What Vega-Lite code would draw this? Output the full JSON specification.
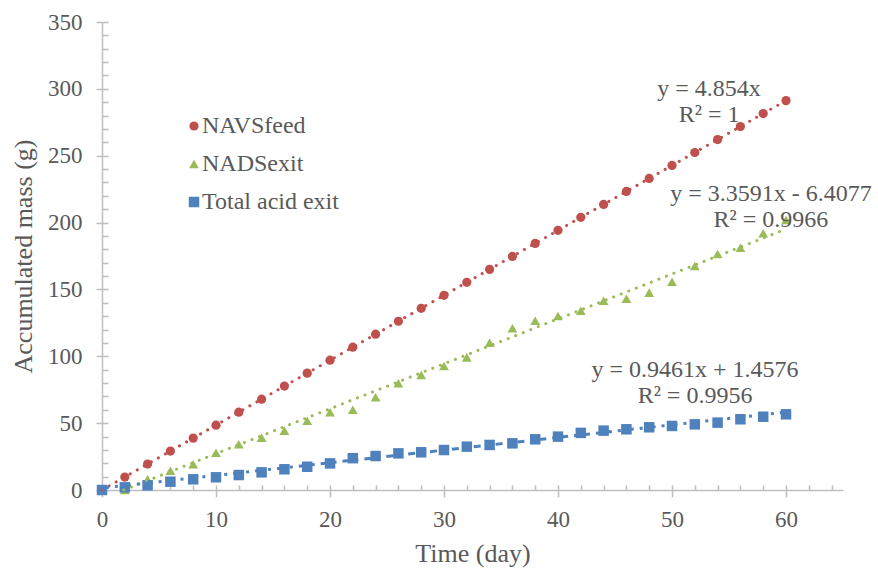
{
  "$schema": "https://vega.github.io/schema/vega-lite/v6.json",
  "width": 741,
  "height": 468,
  "autosize": {"type": "none"},
  "padding": {"left": 102, "top": 22, "right": 35, "bottom": 84},
  "background": "white",
  "config": {
    "view": {"stroke": null},
    "font": "Liberation Serif",
    "axis": {"labelFont": "Liberation Serif", "titleFont": "Liberation Serif"},
    "legend": {"labelFont": "Liberation Serif", "titleFont": "Liberation Serif"}
  },
  "resolve": {"axis": {"x": "independent", "y": "independent"}},
  "datasets": {
    "obs": [
      {"day": 0, "series": "NAVSfeed", "mass": 0},
      {"day": 2, "series": "NAVSfeed", "mass": 9.7},
      {"day": 4, "series": "NAVSfeed", "mass": 19.4},
      {"day": 6, "series": "NAVSfeed", "mass": 29.1},
      {"day": 8, "series": "NAVSfeed", "mass": 38.8},
      {"day": 10, "series": "NAVSfeed", "mass": 48.5},
      {"day": 12, "series": "NAVSfeed", "mass": 58.2},
      {"day": 14, "series": "NAVSfeed", "mass": 67.9},
      {"day": 16, "series": "NAVSfeed", "mass": 77.7},
      {"day": 18, "series": "NAVSfeed", "mass": 87.4},
      {"day": 20, "series": "NAVSfeed", "mass": 97.1},
      {"day": 22, "series": "NAVSfeed", "mass": 106.8},
      {"day": 24, "series": "NAVSfeed", "mass": 116.5},
      {"day": 26, "series": "NAVSfeed", "mass": 126.2},
      {"day": 28, "series": "NAVSfeed", "mass": 135.9},
      {"day": 30, "series": "NAVSfeed", "mass": 145.6},
      {"day": 32, "series": "NAVSfeed", "mass": 155.3},
      {"day": 34, "series": "NAVSfeed", "mass": 165.0},
      {"day": 36, "series": "NAVSfeed", "mass": 174.7},
      {"day": 38, "series": "NAVSfeed", "mass": 184.4},
      {"day": 40, "series": "NAVSfeed", "mass": 194.2},
      {"day": 42, "series": "NAVSfeed", "mass": 203.9},
      {"day": 44, "series": "NAVSfeed", "mass": 213.6},
      {"day": 46, "series": "NAVSfeed", "mass": 223.3},
      {"day": 48, "series": "NAVSfeed", "mass": 233.0},
      {"day": 50, "series": "NAVSfeed", "mass": 242.7},
      {"day": 52, "series": "NAVSfeed", "mass": 252.4},
      {"day": 54, "series": "NAVSfeed", "mass": 262.1},
      {"day": 56, "series": "NAVSfeed", "mass": 271.8},
      {"day": 58, "series": "NAVSfeed", "mass": 281.5},
      {"day": 60, "series": "NAVSfeed", "mass": 291.2},
      {"day": 0, "series": "NADSexit", "mass": 0},
      {"day": 2, "series": "NADSexit", "mass": 0},
      {"day": 4, "series": "NADSexit", "mass": 8},
      {"day": 6, "series": "NADSexit", "mass": 14.4},
      {"day": 8, "series": "NADSexit", "mass": 19.2},
      {"day": 10, "series": "NADSexit", "mass": 27.9},
      {"day": 12, "series": "NADSexit", "mass": 34.2},
      {"day": 14, "series": "NADSexit", "mass": 39.1},
      {"day": 16, "series": "NADSexit", "mass": 44.4},
      {"day": 18, "series": "NADSexit", "mass": 51.8},
      {"day": 20, "series": "NADSexit", "mass": 58.1},
      {"day": 22, "series": "NADSexit", "mass": 60.0},
      {"day": 24, "series": "NADSexit", "mass": 69.3},
      {"day": 26, "series": "NADSexit", "mass": 79.8},
      {"day": 28, "series": "NADSexit", "mass": 86.0},
      {"day": 30, "series": "NADSexit", "mass": 92.7},
      {"day": 32, "series": "NADSexit", "mass": 99.2},
      {"day": 34, "series": "NADSexit", "mass": 110.2},
      {"day": 36, "series": "NADSexit", "mass": 120.9},
      {"day": 38, "series": "NADSexit", "mass": 126.6},
      {"day": 40, "series": "NADSexit", "mass": 130.1},
      {"day": 42, "series": "NADSexit", "mass": 134.1},
      {"day": 44, "series": "NADSexit", "mass": 141.6},
      {"day": 46, "series": "NADSexit", "mass": 143.1},
      {"day": 48, "series": "NADSexit", "mass": 147.6},
      {"day": 50, "series": "NADSexit", "mass": 155.8},
      {"day": 52, "series": "NADSexit", "mass": 167.5},
      {"day": 54, "series": "NADSexit", "mass": 176.5},
      {"day": 56, "series": "NADSexit", "mass": 181.2},
      {"day": 58, "series": "NADSexit", "mass": 192.0},
      {"day": 60, "series": "NADSexit", "mass": 201.9},
      {"day": 0, "series": "Total acid exit", "mass": 0},
      {"day": 2, "series": "Total acid exit", "mass": 2.0},
      {"day": 4, "series": "Total acid exit", "mass": 3.5},
      {"day": 6, "series": "Total acid exit", "mass": 6.2},
      {"day": 8, "series": "Total acid exit", "mass": 8.0},
      {"day": 10, "series": "Total acid exit", "mass": 9.5},
      {"day": 12, "series": "Total acid exit", "mass": 11.2},
      {"day": 14, "series": "Total acid exit", "mass": 13.2},
      {"day": 16, "series": "Total acid exit", "mass": 15.5},
      {"day": 18, "series": "Total acid exit", "mass": 17.4},
      {"day": 20, "series": "Total acid exit", "mass": 19.9},
      {"day": 22, "series": "Total acid exit", "mass": 23.8},
      {"day": 24, "series": "Total acid exit", "mass": 25.4},
      {"day": 26, "series": "Total acid exit", "mass": 27.4},
      {"day": 28, "series": "Total acid exit", "mass": 28.2},
      {"day": 30, "series": "Total acid exit", "mass": 29.9},
      {"day": 32, "series": "Total acid exit", "mass": 32.4},
      {"day": 34, "series": "Total acid exit", "mass": 33.7},
      {"day": 36, "series": "Total acid exit", "mass": 34.9},
      {"day": 38, "series": "Total acid exit", "mass": 37.9},
      {"day": 40, "series": "Total acid exit", "mass": 39.9},
      {"day": 42, "series": "Total acid exit", "mass": 42.7},
      {"day": 44, "series": "Total acid exit", "mass": 44.4},
      {"day": 46, "series": "Total acid exit", "mass": 45.4},
      {"day": 48, "series": "Total acid exit", "mass": 46.9},
      {"day": 50, "series": "Total acid exit", "mass": 47.9},
      {"day": 52, "series": "Total acid exit", "mass": 49.1},
      {"day": 54, "series": "Total acid exit", "mass": 50.4},
      {"day": 56, "series": "Total acid exit", "mass": 52.9},
      {"day": 58, "series": "Total acid exit", "mass": 54.8},
      {"day": 60, "series": "Total acid exit", "mass": 56.6}
    ],
    "trend": [
      {"series": "NAVSfeed", "day": 0, "mass": 0},
      {"series": "NAVSfeed", "day": 60, "mass": 291.24},
      {"series": "NADSexit", "day": 1.91, "mass": 0},
      {"series": "NADSexit", "day": 60, "mass": 195.14},
      {"series": "Total acid exit", "day": 0, "mass": 1.46},
      {"series": "Total acid exit", "day": 60, "mass": 58.22}
    ],
    "labels": [
      {"series": "NAVSfeed", "text": "y = 4.854x", "day": 53.25, "mass": 294.7},
      {"series": "NAVSfeed", "text": "R² = 1", "day": 53.25, "mass": 275.4},
      {"series": "NADSexit", "text": "y = 3.3591x - 6.4077", "day": 58.68, "mass": 216.4},
      {"series": "NADSexit", "text": "R² = 0.9966", "day": 58.68, "mass": 196.9},
      {"series": "Total acid exit", "text": "y = 0.9461x + 1.4576", "day": 52.02, "mass": 84.7},
      {"series": "Total acid exit", "text": "R² = 0.9956", "day": 52.02, "mass": 64.8}
    ]
  },
  "layer": [
    {
      "data": {"name": "obs"},
      "mark": {"type": "point", "filled": true, "opacity": 1, "clip": false},
      "encoding": {
        "x": {
          "field": "day", "type": "quantitative",
          "scale": {"domain": [0, 65], "nice": false, "zero": false},
          "axis": {
            "orient": "bottom",
            "title": "Time (day)",
            "values": [0, 10, 20, 30, 40, 50, 60],
            "tickSize": 7,
            "grid": false,
            "domainColor": "#BFBFBF", "domainWidth": 1.5,
            "tickColor": "#BFBFBF", "tickWidth": 1.5,
            "labelFont": "Liberation Serif", "labelFontSize": 23, "labelColor": "#595959",
            "labelPadding": 11, "labelFlush": false, "labelOverlap": false,
            "titleFont": "Liberation Serif", "titleFontSize": 26, "titleFontWeight": "normal",
            "titleColor": "#595959", "titlePadding": 9
          }
        },
        "y": {
          "field": "mass", "type": "quantitative",
          "scale": {"domain": [0, 350], "nice": false},
          "axis": {
            "orient": "left",
            "title": "Accumulated mass (g)",
            "values": [0, 50, 100, 150, 200, 250, 300, 350],
            "tickSize": 6,
            "grid": false,
            "domainColor": "#BFBFBF", "domainWidth": 1.5,
            "tickColor": "#BFBFBF", "tickWidth": 1.5,
            "labelFont": "Liberation Serif", "labelFontSize": 23, "labelColor": "#595959",
            "labelPadding": 14, "labelFlush": false, "labelOverlap": false,
            "titleFont": "Liberation Serif", "titleFontSize": 26, "titleFontWeight": "normal",
            "titleColor": "#595959", "titlePadding": 11
          }
        },
        "color": {
          "field": "series", "type": "nominal",
          "scale": {"domain": ["NAVSfeed", "NADSexit", "Total acid exit"], "range": ["#C0504D", "#9BBB59", "#4F81BD"]},
          "legend": {
            "orient": "none", "legendX": 80, "legendY": 92, "title": null,
            "labelFont": "Liberation Serif", "labelFontSize": 24, "labelColor": "#595959",
            "symbolSize": 50, "symbolStrokeWidth": 0, "rowPadding": 14, "labelOffset": -4, "padding": 0
          }
        },
        "shape": {
          "field": "series", "type": "nominal",
          "scale": {"domain": ["NAVSfeed", "NADSexit", "Total acid exit"], "range": ["circle", "triangle-up", "square"]},
          "legend": {
            "orient": "none", "legendX": 80, "legendY": 92, "title": null,
            "labelFont": "Liberation Serif", "labelFontSize": 24, "labelColor": "#595959",
            "symbolSize": 50, "symbolStrokeWidth": 0, "rowPadding": 14, "labelOffset": -4, "padding": 0
          }
        },
        "size": {
          "field": "series", "type": "nominal",
          "scale": {"domain": ["NAVSfeed", "NADSexit", "Total acid exit"], "range": [85, 110, 85]},
          "legend": null
        }
      }
    },
    {
      "data": {"name": "trend"},
      "transform": [{"filter": "datum.series === 'NAVSfeed'"}],
      "mark": {"type": "line", "color": "#C0504D", "strokeWidth": 3, "strokeCap": "round", "strokeDash": [0.1, 8], "clip": false},
      "encoding": {
        "x": {
          "field": "day", "type": "quantitative",
          "axis": {
            "orient": "bottom", "title": null, "labels": false, "domain": false, "grid": false,
            "values": [0,2,4,6,8,10,12,14,16,18,20,22,24,26,28,30,32,34,36,38,40,42,44,46,48,50,52,54,56,58,60,62,64],
            "tickSize": -5, "tickColor": "#BFBFBF", "tickWidth": 1.5
          }
        },
        "y": {
          "field": "mass", "type": "quantitative",
          "axis": {
            "orient": "left", "title": null, "labels": false, "domain": false, "grid": false,
            "values": [0,10,20,30,40,50,60,70,80,90,100,110,120,130,140,150,160,170,180,190,200,210,220,230,240,250,260,270,280,290,300,310,320,330,340,350],
            "tickSize": -6, "tickColor": "#BFBFBF", "tickWidth": 1.5
          }
        }
      }
    },
    {
      "data": {"name": "trend"},
      "transform": [{"filter": "datum.series === 'NADSexit'"}],
      "mark": {"type": "line", "color": "#9BBB59", "strokeWidth": 3, "strokeCap": "round", "strokeDash": [0.1, 8], "clip": false},
      "encoding": {
        "x": {"field": "day", "type": "quantitative", "axis": null},
        "y": {"field": "mass", "type": "quantitative", "axis": null}
      }
    },
    {
      "data": {"name": "trend"},
      "transform": [{"filter": "datum.series === 'Total acid exit'"}],
      "mark": {"type": "line", "color": "#4F81BD", "strokeWidth": 3, "strokeDash": [7, 6, 3, 6], "clip": false},
      "encoding": {
        "x": {"field": "day", "type": "quantitative", "axis": null},
        "y": {"field": "mass", "type": "quantitative", "axis": null}
      }
    },
    {
      "data": {"name": "labels"},
      "mark": {"type": "text", "font": "Liberation Serif", "fontSize": 24, "color": "#595959", "align": "center", "baseline": "alphabetic", "clip": false},
      "encoding": {
        "x": {"field": "day", "type": "quantitative", "axis": null},
        "y": {"field": "mass", "type": "quantitative", "axis": null},
        "text": {"field": "text", "type": "nominal"}
      }
    }
  ]
}
